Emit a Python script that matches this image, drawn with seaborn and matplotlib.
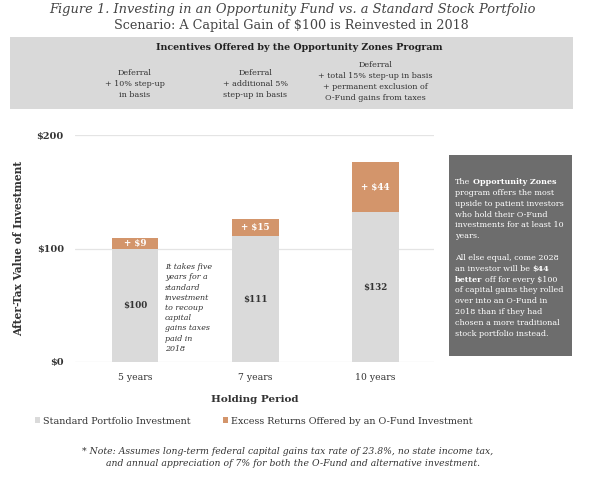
import matplotlib
matplotlib.use("Agg")
import matplotlib.pyplot as plt
import seaborn as sns
import pandas as pd
from matplotlib.patches import Rectangle, Patch

# ---- data ----
periods = ["5 years", "7 years", "10 years"]
standard_values = [100, 111, 132]
excess_values = [9, 15, 44]
y_ticks = [0, 100, 200]
y_tick_labels = ["$0", "$100", "$200"]
incentive_texts = [
    ["Deferral", "+ 10% step-up", "in basis"],
    ["Deferral", "+ additional 5%", "step-up in basis"],
    ["Deferral", "+ total 15% step-up in basis", "+ permanent exclusion of",
     "O-Fund gains from taxes"],
]
legend_labels = ["Standard Portfolio Investment", "Excess Returns Offered by an O-Fund Investment"]

GRAY = "#dadada"
ORANGE = "#d3956b"
DARK = "#6d6d6d"
TXT = "#333333"

sns.set_theme(style="white")
plt.rcParams["font.family"] = ["DejaVu Serif"]

W, H = 604, 480
fig = plt.figure(figsize=(W / 100, H / 100), dpi=100)

def fx(px):
    return px / W

def fy(py):
    return 1 - py / H

df = pd.DataFrame({"period": periods, "standard": standard_values,
                   "excess": excess_values})
df["total"] = df["standard"] + df["excess"]

ax = fig.add_axes([fx(75), fy(362), fx(434) - fx(75), fy(135) - fy(362)])
sns.barplot(data=df, x="period", y="total", color=ORANGE, width=0.39,
            saturation=1, ax=ax, zorder=3)
sns.barplot(data=df, x="period", y="standard", color=GRAY, width=0.39,
            saturation=1, ax=ax, zorder=3)
for p in ax.patches:
    p.set_edgecolor("none")
ax.set_ylim(0, 200)
ax.set_xlim(-0.5, 2.49)
ax.set_yticks(y_ticks)
ax.set_yticklabels(y_tick_labels, fontsize=7.0, color=TXT, fontweight="bold")
ax.tick_params(axis="y", length=0, pad=8)
ax.tick_params(axis="x", length=0, pad=8, labelsize=6.7, colors=TXT)
for s in ax.spines.values():
    s.set_visible(False)
ax.grid(axis="y", color="#e4e4e4", lw=0.9, zorder=0)
ax.set_axisbelow(True)
ax.set_xlabel("Holding Period", fontsize=7.5, fontweight="bold", color=TXT, labelpad=9)
ax.set_ylabel("After-Tax Value of Investment", fontsize=7.7, fontweight="bold",
              color=TXT, labelpad=9)

for i, (s, e) in enumerate(zip(standard_values, excess_values)):
    ax.text(i, s / 2, f"${s}", ha="center", va="center", fontsize=6.3,
            fontweight="bold", color=TXT, zorder=5)
    ax.text(i, s + e / 2, f"+ ${e}", ha="center", va="center", fontsize=6.3,
            fontweight="bold", color="white", zorder=5)

# annotation next to the first bar
ann = ["It takes five", "years for a", "standard", "investment", "to recoup",
       "capital", "gains taxes", "paid in", "2018"]
for k, line in enumerate(ann):
    fig.text(fx(165), fy(267 + k * 10.25), line, ha="left", va="center",
             fontsize=5.7, style="italic", color=TXT)

# title
fig.text(fx(292), fy(10), "Figure 1. Investing in an Opportunity Fund vs. a Standard Stock Portfolio",
         ha="center", va="center", fontsize=9.35, style="italic", color="#444444")
fig.text(fx(291), fy(26), "Scenario: A Capital Gain of $100 is Reinvested in 2018",
         ha="center", va="center", fontsize=9.2, color="#444444")

# header box
fig.patches.append(Rectangle((fx(10), fy(109)), fx(573) - fx(10), fy(37) - fy(109),
                             transform=fig.transFigure, facecolor="#d9d9d9",
                             edgecolor="none", zorder=0))
fig.text(fx(299), fy(48), "Incentives Offered by the Opportunity Zones Program",
         ha="center", va="center", fontsize=6.8, fontweight="bold", color="#222222")
col_top = [73, 73, 65]
for i, (ct, lines) in enumerate(zip(col_top, incentive_texts)):
    cx = ax.transData.transform((i, 0))[0] / fig.dpi / fig.get_figwidth()
    for k, line in enumerate(lines):
        fig.text(cx, fy(ct + k * 11), line, ha="center", va="center",
                 fontsize=5.8, color=TXT)

# dark box
fig.patches.append(Rectangle((fx(449), fy(356)), fx(572) - fx(449), fy(155) - fy(356),
                             transform=fig.transFigure, facecolor=DARK,
                             edgecolor="none", zorder=0))

renderer = fig.canvas.get_renderer()
BOX_FS = 5.75

def space_w(weight, size):
    t1 = fig.text(0, 0, "x x", fontsize=size, fontweight=weight)
    t2 = fig.text(0, 0, "xx", fontsize=size, fontweight=weight)
    w = t1.get_window_extent(renderer).width - t2.get_window_extent(renderer).width
    t1.remove(); t2.remove()
    return w

sw = {"normal": space_w("normal", BOX_FS), "bold": space_w("bold", BOX_FS)}

def rich_line(x, y, segs):
    cur = x
    for j, (txt, bold) in enumerate(segs):
        wgt = "bold" if bold else "normal"
        if j > 0:
            cur += sw[wgt]
        t = fig.text(fx(cur), fy(y), txt, fontsize=BOX_FS, fontweight=wgt,
                     color="white", ha="left", va="center")
        cur += t.get_window_extent(renderer).width

box_lines = [
    [("The", False), ("Opportunity Zones", True)],
    [("program offers the most", False)],
    [("upside to patient investors", False)],
    [("who hold their O-Fund", False)],
    [("investments for at least 10", False)],
    [("years.", False)],
    None,
    [("All else equal, come 2028", False)],
    [("an investor will be", False), ("$44", True)],
    [("better", True), ("off for every $100", False)],
    [("of capital gains they rolled", False)],
    [("over into an O-Fund in", False)],
    [("2018 than if they had", False)],
    [("chosen a more traditional", False)],
    [("stock portfolio instead.", False)],
]
for k, segs in enumerate(box_lines):
    if segs is None:
        continue
    rich_line(455, 182 + k * 10.85, segs)

# legend
handles = [Patch(facecolor=GRAY, edgecolor="none"), Patch(facecolor=ORANGE, edgecolor="none")]
fig.legend(handles, legend_labels, loc="center left", bbox_to_anchor=(fx(35), fy(421)),
           ncol=2, frameon=False, fontsize=6.95, handlelength=0.5, handleheight=0.5,
           handletextpad=0.35, columnspacing=3.3, labelcolor=TXT,
           borderpad=0, borderaxespad=0)

# note
note_lines = ["* Note: Assumes long-term federal capital gains tax rate of 23.8%, no state income tax,",
              "and annual appreciation of 7% for both the O-Fund and alternative investment."]
fig.text(fx(288), fy(451), note_lines[0], ha="center", va="center", fontsize=6.7,
         style="italic", color=TXT)
fig.text(fx(293), fy(463), note_lines[1], ha="center", va="center", fontsize=6.7,
         style="italic", color=TXT)

fig.savefig("out.png", dpi=100)
